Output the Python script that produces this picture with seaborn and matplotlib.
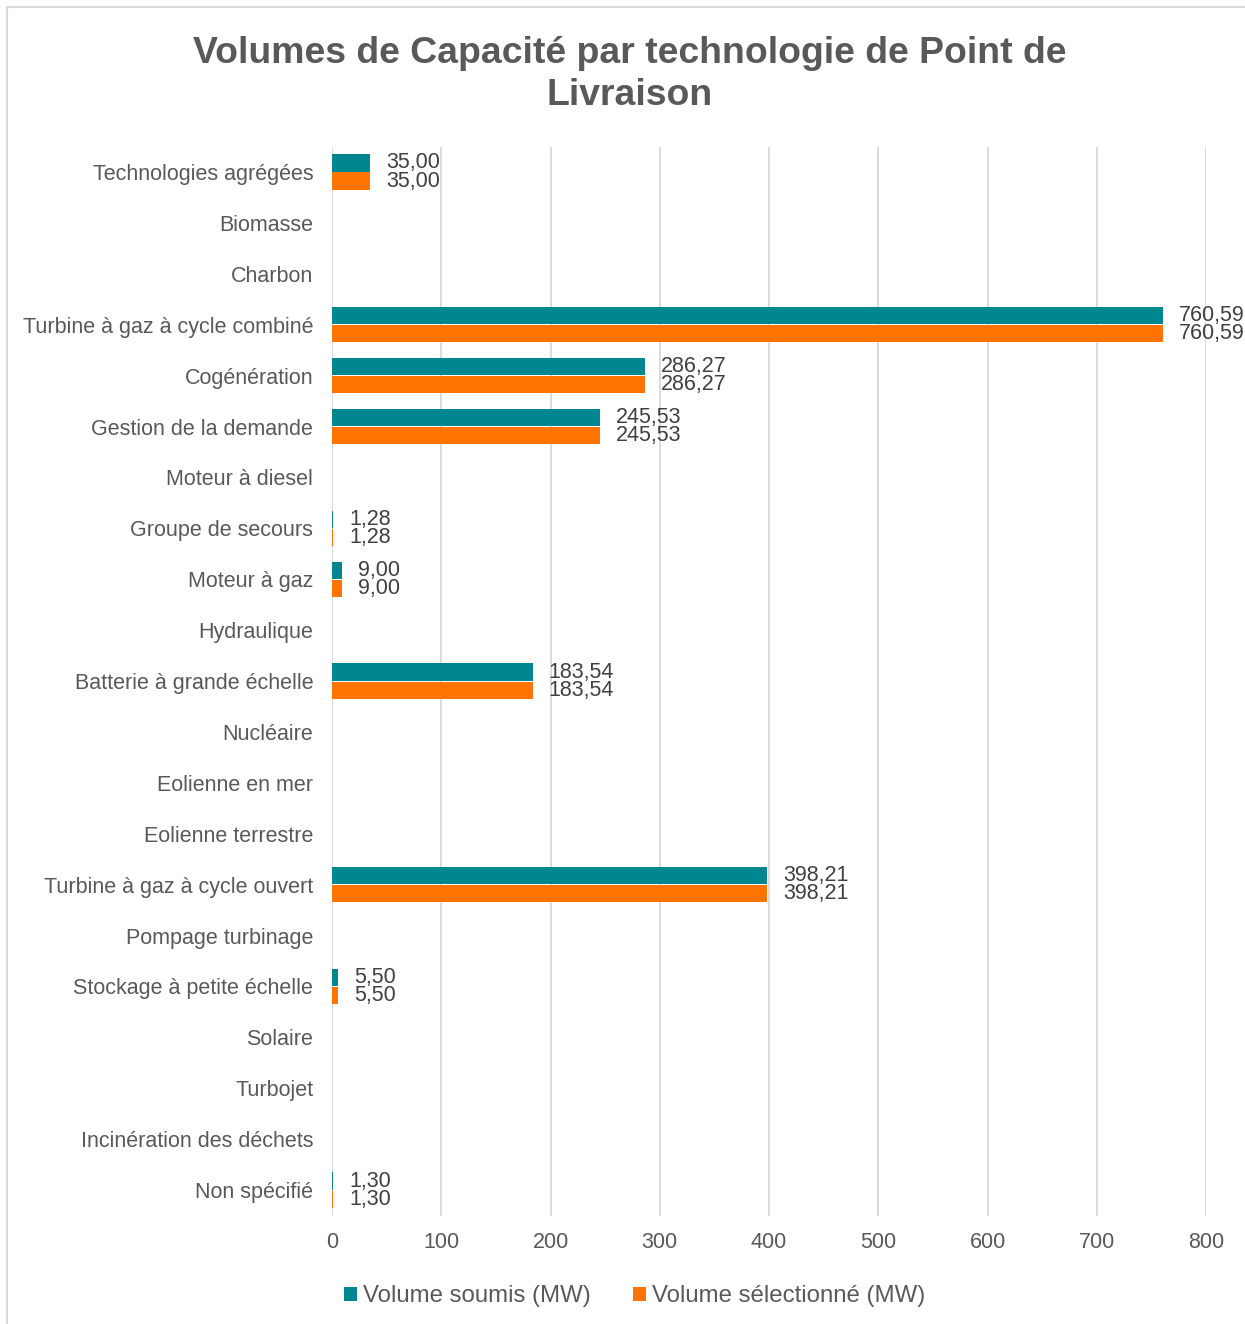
import pandas as pd
import matplotlib.pyplot as plt
import seaborn as sns
from matplotlib.patches import Rectangle

categories = ["Technologies agrégées", "Biomasse", "Charbon", "Turbine à gaz à cycle combiné",
              "Cogénération", "Gestion de la demande", "Moteur à diesel", "Groupe de secours",
              "Moteur à gaz", "Hydraulique", "Batterie à grande échelle", "Nucléaire",
              "Eolienne en mer", "Eolienne terrestre", "Turbine à gaz à cycle ouvert",
              "Pompage turbinage", "Stockage à petite échelle", "Solaire", "Turbojet",
              "Incinération des déchets", "Non spécifié"]
volume_soumis = [35.00, None, None, 760.59, 286.27, 245.53, None, 1.28, 9.00, None, 183.54,
                 None, None, None, 398.21, None, 5.50, None, None, None, 1.30]
volume_selectionne = [35.00, None, None, 760.59, 286.27, 245.53, None, 1.28, 9.00, None, 183.54,
                      None, None, None, 398.21, None, 5.50, None, None, None, 1.30]
series = ["Volume soumis (MW)", "Volume sélectionné (MW)"]
colors = ["#00868F", "#FF7300"]

df = pd.DataFrame({
    "cat": categories * 2,
    "val": volume_soumis + volume_selectionne,
    "serie": [series[0]] * len(categories) + [series[1]] * len(categories),
})

sns.set_style("white")
plt.rcParams["font.family"] = ["Liberation Sans", "DejaVu Sans"]

fig = plt.figure(figsize=(12.45, 13.24), dpi=100)
ax = fig.add_axes([0.2667, 0.0819, 0.7020, 0.8074])
sns.barplot(data=df, y="cat", x="val", hue="serie", order=categories, hue_order=series,
            palette=colors, orient="h", width=0.71, gap=0.05, linewidth=0,
            saturation=1, ax=ax)

# data labels
for cont in ax.containers:
    labels = ["" if v != v else f"{v:.2f}".replace(".", ",") for v in cont.datavalues]
    ax.bar_label(cont, labels=labels, padding=11.5, fontsize=15.5, color="#404040")

ax.set_xlim(0, 800)
ax.set_xticks(range(0, 801, 100))
ax.grid(axis="x", color="#D9D9D9", linewidth=1.3)
ax.set_axisbelow(True)
for s in ax.spines.values():
    s.set_visible(False)
ax.set_xlabel("")
ax.set_ylabel("")
ax.tick_params(axis="both", length=0, labelsize=15.5, labelcolor="#595959")
ax.tick_params(axis="y", pad=13.5)
ax.tick_params(axis="x", pad=12)

ax.legend(loc="upper center", bbox_to_anchor=(0.346, -0.045), ncol=2, frameon=False,
          fontsize=17.3, labelcolor="#595959", handlelength=0.55, handleheight=0.55,
          handletextpad=0.25, columnspacing=1.75)

fig.suptitle("Volumes de Capacité par technologie de Point de\nLivraison", x=0.506, y=0.973,
             fontsize=26.9, fontweight="bold", color="#595959", linespacing=1.27)

fig.patches.append(Rectangle((0.006, -0.01), 1.1, 1.0047, transform=fig.transFigure,
                             fill=False, edgecolor="#D9D9D9", linewidth=1.5))

fig.savefig("out.png", dpi=100)
